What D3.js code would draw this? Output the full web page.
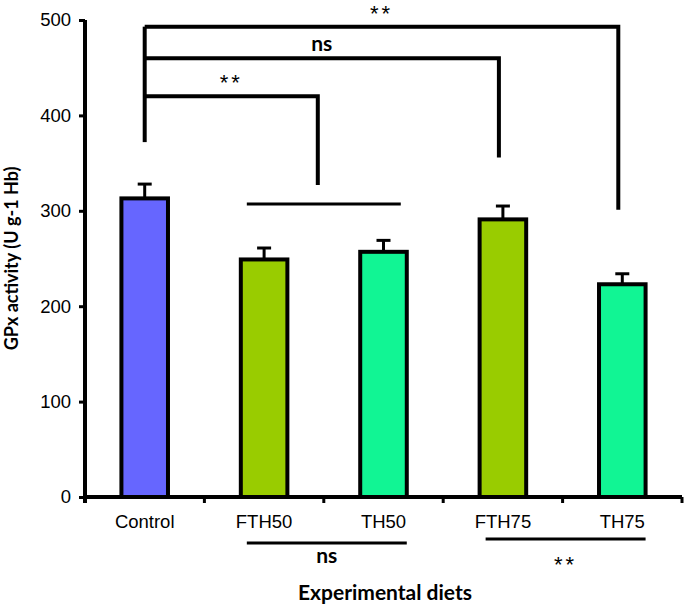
<!DOCTYPE html>
<html>
<head>
<meta charset="utf-8">
<script src="https://cdn.jsdelivr.net/npm/d3@7"></script>
<style>
  body { margin: 0; background: #fff; }
  svg { display: block; }
</style>
</head>
<body>
<div id="chart"></div>
<script>
// values
const diets = ["Control", "FTH50", "TH50", "FTH75", "TH75"];
const gpx = [313, 249, 257, 291, 223];
const sem = [15, 12, 12, 14, 11];
const barColors = ["#6666ff", "#99cc00", "#11f594", "#99cc00", "#11f594"];
const yTicks = [0, 100, 200, 300, 400, 500];

// significance above the bars: Control against ...
const topTargets = [["FTH50", "TH50"], ["FTH75"], ["TH75"]];
const topLabels = ["**", "ns", "**"];
// pairs under the axis
const bottomPairs = [["FTH50", "TH50"], ["FTH75", "TH75"]];
const bottomLabels = ["ns", "**"];

const W = 688, H = 607;
const margin = { top: 20, right: 6, bottom: 110, left: 85 };

const svg = d3.select("#chart")
  .append("svg")
  .attr("width", W)
  .attr("height", H);

const x = d3.scaleBand()
  .domain(diets)
  .range([margin.left, W - margin.right])
  .paddingInner(0.61)
  .paddingOuter(0.305);

const y = d3.scaleLinear()
  .domain([0, 500])
  .range([H - margin.bottom, margin.top]);

const data = diets.map((d, i) => ({ diet: d, value: gpx[i], err: sem[i], color: barColors[i] }));

// significance text: "ns" bold, stars plain and wider
function sigText(sel, label) {
  const ns = label === "ns";
  return sel
    .attr("text-anchor", "middle")
    .attr("font-family", ns ? "Lato, sans-serif" : "Liberation Sans, Arial, sans-serif")
    .attr("font-weight", ns ? "bold" : "normal")
    .attr("font-size", ns ? 21 : 22)
    .attr("letter-spacing", ns ? 0 : 3)
    .text(label);
}

// bars
svg.append("g")
  .selectAll("rect")
  .data(data)
  .join("rect")
    .attr("x", d => x(d.diet))
    .attr("y", d => y(d.value))
    .attr("width", x.bandwidth())
    .attr("height", d => y(0) - y(d.value))
    .attr("fill", d => d.color)
    .attr("stroke", "#000")
    .attr("stroke-width", 4);

// error bars
const cx = d => x(d.diet) + x.bandwidth() / 2;
const eb = svg.append("g").attr("stroke", "#000").attr("stroke-width", 3);
eb.selectAll("line.v")
  .data(data)
  .join("line")
    .attr("class", "v")
    .attr("x1", cx).attr("x2", cx)
    .attr("y1", d => y(d.value))
    .attr("y2", d => y(d.value + d.err));
eb.selectAll("line.cap")
  .data(data)
  .join("line")
    .attr("class", "cap")
    .attr("x1", d => cx(d) - 7).attr("x2", d => cx(d) + 7)
    .attr("y1", d => y(d.value + d.err))
    .attr("y2", d => y(d.value + d.err));

// axes
const yAxis = svg.append("g")
  .attr("transform", `translate(${margin.left},0)`)
  .call(d3.axisLeft(y).tickValues(yTicks).tickSize(6).tickPadding(8).tickSizeOuter(0));
yAxis.select(".domain").attr("stroke-width", 4).attr("d", `M0,${y(500)}V${y(0) + 6}`);
yAxis.selectAll(".tick line").attr("stroke-width", 3);
yAxis.selectAll(".tick text")
  .attr("font-family", "Liberation Sans, Arial, sans-serif")
  .attr("font-size", 18.5)
  .attr("fill", "#000");

const xAxis = svg.append("g")
  .attr("transform", `translate(0,${y(0)})`);
xAxis.append("line")
  .attr("x1", margin.left).attr("x2", W - margin.right)
  .attr("stroke", "#000").attr("stroke-width", 4);
const bounds = diets.map(d => x(d) - x.step() * x.paddingInner() / 2).concat([W - margin.right]);
xAxis.selectAll("line.tk")
  .data(bounds)
  .join("line")
    .attr("class", "tk")
    .attr("x1", d => d).attr("x2", d => d)
    .attr("y1", 0).attr("y2", 6)
    .attr("stroke", "#000").attr("stroke-width", 3);
xAxis.selectAll("text")
  .data(diets)
  .join("text")
    .attr("x", d => x(d) + x.bandwidth() / 2)
    .attr("y", 31)
    .attr("text-anchor", "middle")
    .attr("font-family", "Liberation Sans, Arial, sans-serif")
    .attr("font-size", 18.5)
    .text(d => d);

// axis titles
svg.append("text")
  .attr("transform", `translate(18,${(y(0) + y(500)) / 2}) rotate(-90)`)
  .attr("text-anchor", "middle")
  .attr("font-family", "Lato, sans-serif")
  .attr("font-weight", "bold")
  .attr("font-size", 18)
  .text("GPx activity (U g-1 Hb)");

svg.append("text")
  .attr("x", 385)
  .attr("y", 600)
  .attr("text-anchor", "middle")
  .attr("font-family", "Lato, sans-serif")
  .attr("font-weight", "bold")
  .attr("font-size", 21)
  .text("Experimental diets");

// significance brackets above
const ctrlX = cx(data[0]);
const levels = [y(420), y(460), y(493)];
const ends = [y(327), y(356), y(301)];
const br = svg.append("g").attr("fill", "none").attr("stroke", "#000").attr("stroke-width", 4);
br.append("line")
  .attr("x1", ctrlX).attr("x2", ctrlX)
  .attr("y1", levels[2]).attr("y2", y(372));
topTargets.forEach((t, i) => {
  const tx = d3.mean(t, d => x(d) + x.bandwidth() / 2) - (t.length > 1 ? 6 : 4);
  br.append("path")
    .attr("d", `M${ctrlX},${levels[i]}H${tx}V${ends[i]}`);
  svg.append("text")
    .attr("x", (ctrlX + tx) / 2)
    .attr("y", levels[i] - (topLabels[i] === "ns" ? 7 : 6))
    .call(sigText, topLabels[i]);
});
// group line over FTH50 / TH50
br.append("line")
  .attr("x1", x("FTH50") + 6).attr("x2", x("TH50") + x.bandwidth() - 6)
  .attr("y1", y(307)).attr("y2", y(307))
  .attr("stroke-width", 3);

// pairs under the axis
bottomPairs.forEach((p, i) => {
  const x1 = x(p[0]) + 6, x2 = x(p[1]) + x.bandwidth();
  const ly = i === 0 ? 543 : 539;
  svg.append("line")
    .attr("x1", x1).attr("x2", x2)
    .attr("y1", ly).attr("y2", ly)
    .attr("stroke", "#000").attr("stroke-width", 3);
  svg.append("text")
    .attr("x", (x1 + x2) / 2)
    .attr("y", bottomLabels[i] === "ns" ? 563 : 572)
    .call(sigText, bottomLabels[i]);
});
</script>
</body>
</html>
